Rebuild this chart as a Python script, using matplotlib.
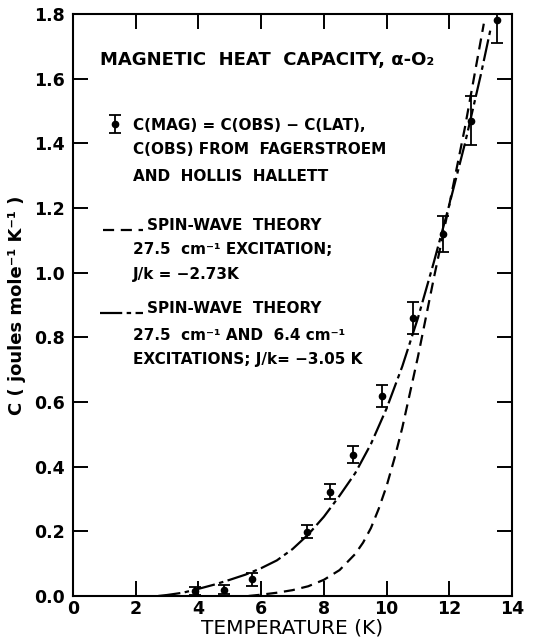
import numpy as np
import matplotlib
matplotlib.use("Agg")
import matplotlib.pyplot as plt

plt.rcParams["font.family"] = "DejaVu Sans"
plt.rcParams["font.weight"] = "bold"

# measured C(MAG) points with error bars
temp_k = [3.9, 4.8, 5.7, 7.45, 8.2, 8.92, 9.86, 10.85, 11.8, 12.7, 13.52]
c_mag = [0.015, 0.02, 0.052, 0.199, 0.323, 0.437, 0.619, 0.86, 1.12, 1.47, 1.78]
c_err = [0.012, 0.014, 0.02, 0.02, 0.024, 0.027, 0.033, 0.05, 0.055, 0.075, 0.07]

# spin-wave theory, 27.5 cm-1 excitation only (dashed)
sw1_t = [5.6, 6.0, 6.5, 7.0, 7.5, 8.0, 8.5, 9.0, 9.25, 9.5, 9.75, 10.0, 10.25,
         10.5, 10.75, 11.0, 11.5, 12.0, 12.5, 13.1]
sw1_c = [0.0, 0.004, 0.01, 0.018, 0.03, 0.05, 0.08, 0.13, 0.165, 0.21, 0.27, 0.34, 0.425,
         0.52, 0.63, 0.74, 0.98, 1.21, 1.45, 1.77]

# spin-wave theory, 27.5 and 6.4 cm-1 excitations (long dash - short dash)
sw2_t = [2.72, 3.0, 3.5, 4.0, 4.5, 5.0, 5.5, 6.0, 6.5, 7.0, 7.5, 8.0, 8.5, 9.0,
         9.5, 10.0, 10.5, 11.0, 11.5, 12.0, 12.5, 13.0, 13.33]
sw2_c = [0.0, 0.003, 0.01, 0.022, 0.035, 0.05, 0.066, 0.086, 0.11, 0.145, 0.19, 0.245, 0.31, 0.38,
         0.47, 0.58, 0.71, 0.86, 1.03, 1.21, 1.40, 1.61, 1.76]

xticks = [0, 2, 4, 6, 8, 10, 12, 14]
yticks = [0.0, 0.2, 0.4, 0.6, 0.8, 1.0, 1.2, 1.4, 1.6, 1.8]

DASHED = (0, (5, 3))
DASHDOT = (0, (10, 2, 2, 2))


def main():
    fig = plt.figure(figsize=(5.42, 6.42), dpi=100)
    ax = fig.add_axes([0.1347, 0.0717, 0.81, 0.9065])

    ax.plot(sw1_t, sw1_c, color="k", lw=1.6, linestyle=DASHED)
    ax.plot(sw2_t, sw2_c, color="k", lw=1.6, linestyle=DASHDOT)
    ax.errorbar(temp_k, c_mag, yerr=c_err, fmt="o", color="k", ms=4.5,
                elinewidth=1.3, capsize=4, capthick=1.3)

    ax.set_xlim(0, 14)
    ax.set_ylim(0, 1.8)
    ax.set_xticks(xticks)
    ax.set_yticks(yticks)
    ax.set_yticklabels(["{:.1f}".format(v) for v in yticks])
    ax.tick_params(direction="in", length=11, width=1.4, top=True, right=True,
                   labelsize=12.5)
    ax.tick_params(axis="y", pad=6)
    ax.tick_params(axis="x", pad=3)
    for s in ax.spines.values():
        s.set_linewidth(1.5)

    ax.set_xlabel("TEMPERATURE (K)", fontsize=14.5, fontweight="normal", labelpad=0)
    ax.set_ylabel("C ( joules mole⁻¹ K⁻¹ )", fontsize=13, fontweight="bold", labelpad=6)

    # title and hand-drawn legend block
    tkw = dict(transform=ax.transAxes, ha="left", va="baseline")
    ax.text(0.0615, 0.913, "MAGNETIC  HEAT  CAPACITY, α-O₂", fontsize=13, **tkw)

    ax.errorbar([0.0957], [0.811], yerr=[0.0163], fmt="o", color="k", ms=4.5,
                elinewidth=1.3, capsize=4, capthick=1.3, transform=ax.transAxes,
                clip_on=False)
    ax.text(0.1367, 0.8007, "C(MAG) = C(OBS) − C(LAT),", fontsize=11, **tkw)
    ax.text(0.1367, 0.7595, "C(OBS) FROM  FAGERSTROEM", fontsize=11, **tkw)
    ax.text(0.1367, 0.713, "AND  HOLLIS  HALLETT", fontsize=11, **tkw)

    ax.plot([0.068, 0.159], [0.6289, 0.6289], color="k", lw=1.6, linestyle=DASHED,
            transform=ax.transAxes, clip_on=False)
    ax.text(0.1686, 0.6289, "SPIN-WAVE  THEORY", fontsize=11, **tkw)
    ax.text(0.1367, 0.5876, "27.5  cm⁻¹ EXCITATION;", fontsize=11, **tkw)
    ax.text(0.1367, 0.5447, "J/k = −2.73K", fontsize=11, **tkw)

    ax.plot([0.0615, 0.1595], [0.4863, 0.4863], color="k", lw=1.6, linestyle=DASHDOT,
            transform=ax.transAxes, clip_on=False)
    ax.text(0.1686, 0.4863, "SPIN-WAVE  THEORY", fontsize=11, **tkw)
    ax.text(0.1367, 0.4399, "27.5  cm⁻¹ AND  6.4 cm⁻¹", fontsize=11, **tkw)
    ax.text(0.1367, 0.3986, "EXCITATIONS; J/k= −3.05 K", fontsize=11, **tkw)

    fig.savefig("out.png", dpi=100)
    plt.close(fig)


if __name__ == "__main__":
    main()
